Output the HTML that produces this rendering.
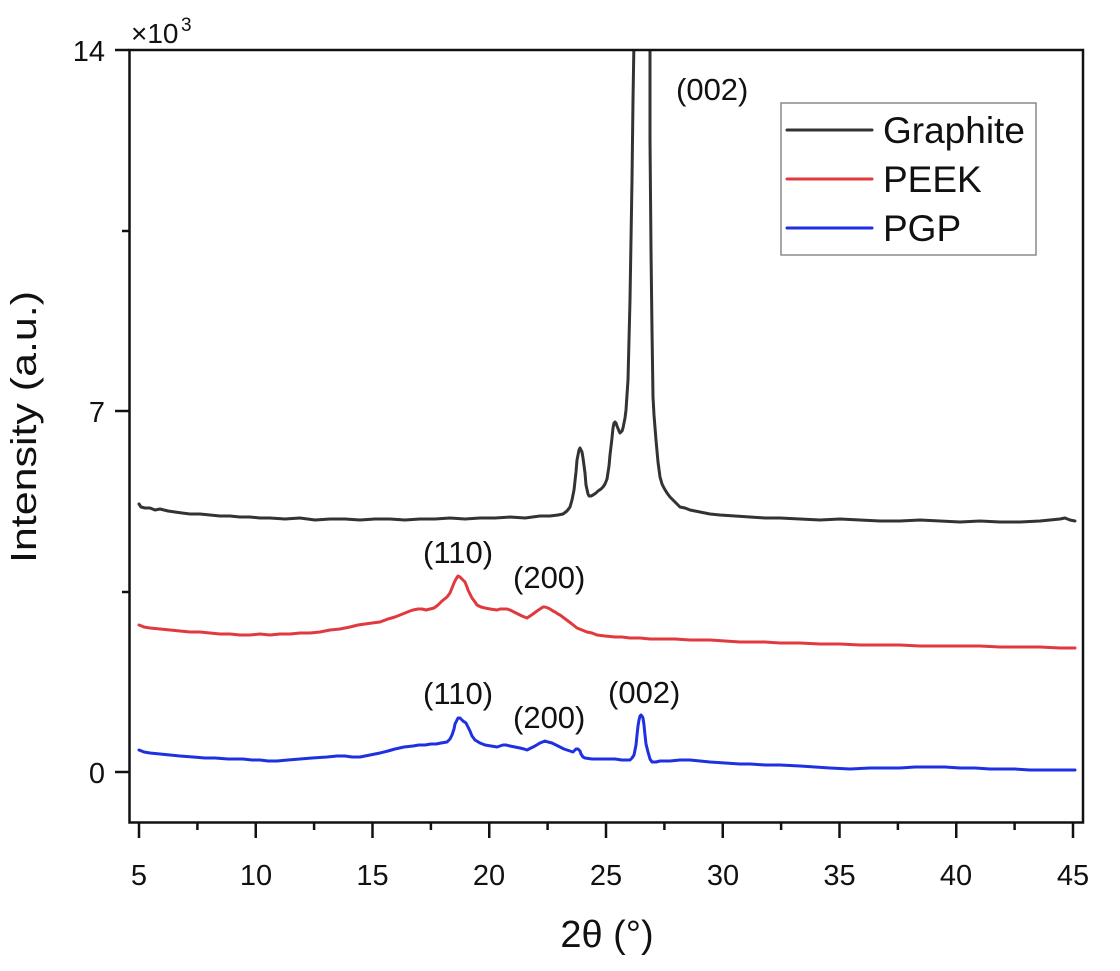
<!DOCTYPE html>
<html>
<head>
<meta charset="utf-8">
<style>
html,body{margin:0;padding:0;background:#fff;}
svg{display:block;}
text{font-family:"Liberation Sans",Arial,sans-serif;fill:#111;}
</style>
</head>
<body>
<svg width="1120" height="971" viewBox="0 0 1120 971" xmlns="http://www.w3.org/2000/svg">
<defs>
<clipPath id="plot"><rect x="130" y="51" width="952" height="770"/></clipPath>
</defs>
<rect width="1120" height="971" fill="#fff"/>

<g clip-path="url(#plot)" fill="none" stroke-width="3" stroke-linejoin="round" stroke-linecap="round">
<polyline stroke="#333333" points="139,504 141,507 145,508 150,508 155,510 160,509 168,511 175,512 182,513 190,514 200,514 210,515 220,516 230,516 240,517 250,517 260,518 270,518 285,519 300,518 315,520 330,519 345,519 360,520 375,519 390,519 405,520 420,519 435,519 450,518 465,519 480,518 495,518 510,517 525,518 540,516 550,516 558,515 563,514 567,511 570,507 572,500 574,490 576,472 577,460 579,450 580,448 582,452 583,458 585,473 586,485 588,494 589,496 591,496 593,495 596,493 598,491 601,489 603,487 605,484 607,479 609,466 610,455 612,438 613,428 614,423 615,422 616,423 617,426 619,431 620,433 622,431 623,428 625,418 626,410 627,395 628,380 629,340 630,300 631,240 632,180 633,100 634,40 634,20 650,20 650,40 650,140 651,250 652,330 653,397 654,415 656,440 658,462 660,477 662,484 664,488 667,493 670,497 672,499 676,503 680,507 685,508 690,510 695,511 700,512 710,514 720,515 735,516 750,517 765,518 780,518 800,519 820,520 840,519 860,520 880,521 900,521 920,520 940,521 960,522 980,521 1000,522 1020,522 1040,521 1050,520 1060,519 1065,518 1070,520 1075,521"/>

<polyline stroke="#e03a3e" points="139,625 144,627 150,628 160,629 170,630 180,631 190,632 200,632 210,633 220,634 230,634 240,635 250,635 260,634 270,635 280,634 290,634 300,633 310,633 320,632 330,630 340,629 350,627 358,625 365,624 372,623 380,622 388,619 395,617 400,615 405,613 410,611 413,610 418,609 422,609 426,610 430,609 434,608 438,605 442,601 447,597 450,593 452,588 454,583 456,579 458,576 460,577 461,578 463,580 465,582 467,587 468,590 470,594 472,598 475,602 477,605 481,607 485,608 490,609 497,610 500,609 503,609 507,609 510,610 514,612 518,614 522,616 527,618 530,616 533,614 537,611 540,609 543,607 545,607 548,608 550,609 553,611 555,612 558,614 560,615 564,618 568,621 572,624 577,628 582,630 587,632 592,633 597,635 605,636 615,637 622,637 630,638 640,638 650,639 660,639 675,639 690,640 700,640 710,640 725,641 740,642 750,642 765,642 780,643 800,643 820,644 840,644 860,645 880,645 900,645 920,646 940,646 960,646 980,646 1000,647 1020,647 1040,647 1060,648 1075,648"/>

<polyline stroke="#1f30e2" points="139,750 144,752 150,753 160,754 170,755 180,756 193,757 205,758 215,758 228,759 243,759 252,760 260,760 268,761 277,761 288,760 300,759 312,758 327,757 337,756 345,756 352,757 360,757 370,755 380,753 388,751 395,749 404,747 413,746 419,745 425,745 431,744 436,744 441,743 447,742 450,739 452,735 454,729 455,724 457,720 458,718 460,718 461,719 463,721 466,723 468,727 470,731 472,736 475,740 480,743 485,745 491,746 497,747 500,746 503,745 506,745 510,746 515,747 520,748 524,749 527,750 531,748 535,746 540,743 545,741 548,742 552,743 556,745 560,747 564,749 567,750 570,751 573,752 575,750 576,749 578,749 580,751 581,754 583,757 585,758 592,759 600,759 608,759 615,759 622,760 630,760 632,758 634,755 636,745 637,735 638,726 639,720 640,716 641,715 642,716 643,718 644,725 645,735 646,744 648,752 650,759 652,762 656,762 660,761 665,761 670,761 680,760 690,760 700,761 710,762 725,763 740,764 750,764 765,765 780,765 800,766 815,767 830,768 850,769 870,768 885,768 900,768 915,767 930,767 945,767 960,768 975,768 990,769 1000,769 1015,769 1030,770 1040,770 1055,770 1065,770 1075,770"/>
</g>

<!-- axes box -->
<rect x="129.5" y="50" width="953.5" height="772.5" fill="none" stroke="#111" stroke-width="2.5"/>

<!-- x ticks -->
<g stroke="#111" stroke-width="2.5">
<line x1="139" y1="822" x2="139" y2="838"/>
<line x1="255.75" y1="822" x2="255.75" y2="838"/>
<line x1="372.5" y1="822" x2="372.5" y2="838"/>
<line x1="489.25" y1="822" x2="489.25" y2="838"/>
<line x1="606" y1="822" x2="606" y2="838"/>
<line x1="722.75" y1="822" x2="722.75" y2="838"/>
<line x1="839.5" y1="822" x2="839.5" y2="838"/>
<line x1="956.25" y1="822" x2="956.25" y2="838"/>
<line x1="1073" y1="822" x2="1073" y2="838"/>
<line x1="197.4" y1="822" x2="197.4" y2="830"/>
<line x1="314.1" y1="822" x2="314.1" y2="830"/>
<line x1="430.9" y1="822" x2="430.9" y2="830"/>
<line x1="547.6" y1="822" x2="547.6" y2="830"/>
<line x1="664.4" y1="822" x2="664.4" y2="830"/>
<line x1="781.1" y1="822" x2="781.1" y2="830"/>
<line x1="897.9" y1="822" x2="897.9" y2="830"/>
<line x1="1014.6" y1="822" x2="1014.6" y2="830"/>
<!-- y ticks -->
<line x1="115" y1="50" x2="129" y2="50"/>
<line x1="115" y1="411" x2="129" y2="411"/>
<line x1="115" y1="772" x2="129" y2="772"/>
<line x1="122" y1="231" x2="129" y2="231"/>
<line x1="122" y1="592" x2="129" y2="592"/>
</g>

<!-- x tick labels -->
<g font-size="29" text-anchor="middle">
<text x="139" y="885">5</text>
<text x="256" y="885">10</text>
<text x="372.5" y="885">15</text>
<text x="489" y="885">20</text>
<text x="606" y="885">25</text>
<text x="723" y="885">30</text>
<text x="839.5" y="885">35</text>
<text x="956" y="885">40</text>
<text x="1073" y="885">45</text>
</g>
<!-- y tick labels -->
<g font-size="29" text-anchor="end">
<text x="105" y="61">14</text>
<text x="105" y="422">7</text>
<text x="105" y="783">0</text>
</g>
<text x="131" y="43" font-size="28">×10</text>
<text x="181" y="31" font-size="19">3</text>

<!-- axis titles -->
<text x="607" y="947" font-size="38" text-anchor="middle">2θ (°)</text>
<text transform="translate(36,427) rotate(-90)" font-size="36" text-anchor="middle" textLength="272" lengthAdjust="spacingAndGlyphs">Intensity (a.u.)</text>

<!-- annotations -->
<g font-size="31">
<text x="676" y="100">(002)</text>
<text x="423" y="563">(110)</text>
<text x="513" y="588">(200)</text>
<text x="423" y="704">(110)</text>
<text x="513" y="728">(200)</text>
<text x="608" y="703">(002)</text>
</g>

<!-- legend -->
<rect x="781" y="103" width="255" height="152" fill="#fff" stroke="#8a8a8a" stroke-width="1.5"/>
<g stroke-width="3" stroke-linecap="round">
<line x1="787" y1="130" x2="872" y2="130" stroke="#333333"/>
<line x1="787" y1="179" x2="872" y2="179" stroke="#e03a3e"/>
<line x1="787" y1="228" x2="872" y2="228" stroke="#1f30e2"/>
</g>
<g font-size="37">
<text x="883" y="143">Graphite</text>
<text x="883" y="192">PEEK</text>
<text x="883" y="241">PGP</text>
</g>
</svg>
</body>
</html>
